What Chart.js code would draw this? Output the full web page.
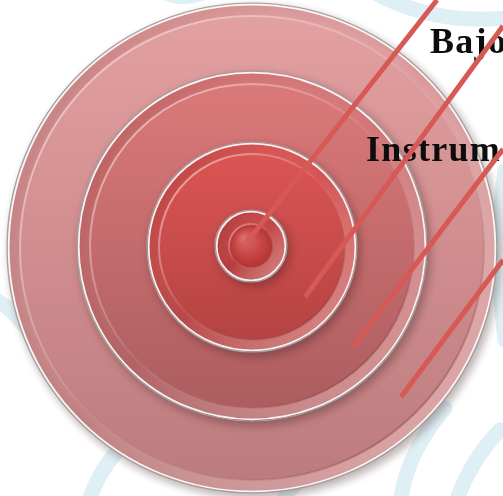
<!DOCTYPE html>
<html><head><meta charset="utf-8">
<script src="https://cdn.jsdelivr.net/npm/chart.js@4/dist/chart.umd.min.js"></script>
<style>html,body{margin:0;padding:0;background:#fff;overflow:hidden}canvas{display:block}</style>
</head><body>
<canvas id="c" width="503" height="496"></canvas>
<script>
// ---- data (image coordinates, y grows downward) ----
const ringNames = ['Anillo 1', 'Anillo 2', 'Anillo 3', 'Centro'];
const ringCenterX = [252, 252, 252, 251];
const ringCenterY = [248, 246, 247, 246];
const ringRadius = [245, 175, 105, 36];
const leaderStartX = [247, 305, 353, 401];
const leaderStartY = [242, 297, 347, 397];
const leaderEndX = [437, 503, 503, 503];
const leaderEndY = [0, 26, 149, 260];
const labelTexts = ['Bajo', 'Instrum'];
const labelX = [430, 366];
const labelY = [53, 161];

// ---- styles ----
const ringTop = ['#e4a1a2', '#dc7a7b', '#dd5654', '#cb4848'];
const ringBottom = ['#bb7a7c', '#ab5c5e', '#b24242', '#b23636'];
const bandWidth = [13, 13, 12, 14];
const lineColor = '#d75955';

function pxRadius(chart, i) {
  const sx = chart.scales.x;
  if (!sx) return NaN;
  return Math.abs(sx.getPixelForValue(ringRadius[i]) - sx.getPixelForValue(0));
}

function ringGradient(ctx, i) {
  const chart = ctx.chart;
  const sy = chart.scales.y;
  if (!sy) return ringTop[i];
  const cy = sy.getPixelForValue(ringCenterY[i]);
  const r = pxRadius(chart, i);
  if (!isFinite(cy) || !isFinite(r) || r < 1) return ringTop[i];
  const g = chart.ctx.createLinearGradient(0, cy - r, 0, cy + r);
  g.addColorStop(0, ringTop[i]);
  g.addColorStop(1, ringBottom[i]);
  return g;
}

const ringDatasets = ringRadius.map((r, i) => ({
  type: 'bubble',
  label: ringNames[i],
  data: [{ x: ringCenterX[i], y: ringCenterY[i] }],
  radius: ctx => {
    const v = pxRadius(ctx.chart, i);
    return isFinite(v) ? v : ringRadius[i];
  },
  backgroundColor: ctx => ringGradient(ctx, i),
  borderColor: '#a2a2a2',
  borderWidth: 1.2,
  hoverRadius: 0,
  order: 10 - i,
  clip: false
}));

const lineDatasets = leaderStartX.map((x, i) => ({
  type: 'line',
  label: 'leader ' + (i + 1),
  data: [{ x: leaderStartX[i], y: leaderStartY[i] }, { x: leaderEndX[i], y: leaderEndY[i] }],
  borderColor: lineColor,
  borderWidth: 5,
  borderCapStyle: 'butt',
  pointRadius: 0,
  order: 1,
  clip: false
}));

function drawBackground(ctx) {
  ctx.save();
  ctx.strokeStyle = 'rgba(190,226,236,0.5)';
  ctx.lineWidth = 15;
  ctx.lineCap = 'round';
  const paths = [
    [[-12, 296], [12, 306], [30, 334]],
    [[88, 505], [98, 468], [128, 440]],
    [[280, 505], [288, 490], [300, 480]],
    [[400, 505], [405, 455], [445, 408]],
    [[455, 505], [470, 460], [500, 430]],
    [[505, 170], [494, 250], [505, 340]],
    [[370, -10], [430, 25], [505, 18]],
    [[160, -10], [180, 2], [205, -8]]
  ];
  for (const p of paths) {
    ctx.beginPath();
    ctx.moveTo(p[0][0], p[0][1]);
    ctx.quadraticCurveTo(p[1][0], p[1][1], p[2][0], p[2][1]);
    ctx.stroke();
  }
  ctx.restore();
}

function drawBevel(ctx, i, cx, cy, R) {
  const b = bandWidth[i];
  ctx.save();
  ctx.beginPath();
  ctx.arc(cx, cy, R - 1.7, 0, Math.PI * 2);
  ctx.strokeStyle = 'rgba(255,255,255,0.92)';
  ctx.lineWidth = 1.8;
  ctx.stroke();
  const g = ctx.createLinearGradient(cx - R * 0.7, cy - R * 0.7, cx + R * 0.7, cy + R * 0.7);
  g.addColorStop(0, 'rgba(110,25,25,0.12)');
  g.addColorStop(0.5, 'rgba(255,255,255,0.02)');
  g.addColorStop(1, 'rgba(255,215,215,0.40)');
  ctx.beginPath();
  ctx.arc(cx, cy, R - 2.6, 0, Math.PI * 2);
  ctx.arc(cx, cy, R - b, 0, Math.PI * 2, true);
  ctx.fillStyle = g;
  ctx.fill();
  const e = ctx.createLinearGradient(cx - R * 0.7, cy - R * 0.7, cx + R * 0.7, cy + R * 0.7);
  e.addColorStop(0, 'rgba(255,235,235,0.55)');
  e.addColorStop(0.5, 'rgba(255,255,255,0.05)');
  e.addColorStop(1, 'rgba(90,15,15,0.30)');
  ctx.beginPath();
  ctx.arc(cx, cy, R - b, 0, Math.PI * 2);
  ctx.strokeStyle = e;
  ctx.lineWidth = 2;
  ctx.stroke();
  if (i === ringRadius.length - 1) {
    const rr = R - b;
    const rg = ctx.createRadialGradient(cx - rr * 0.35, cy - rr * 0.4, 1, cx, cy, rr);
    rg.addColorStop(0, '#dc6b6b');
    rg.addColorStop(0.6, '#c84444');
    rg.addColorStop(1, '#b03434');
    ctx.beginPath();
    ctx.arc(cx, cy, rr - 1, 0, Math.PI * 2);
    ctx.fillStyle = rg;
    ctx.fill();
  }
  ctx.restore();
}

function drawLabels(ctx, chart) {
  const sx = chart.scales.x, sy = chart.scales.y;
  ctx.save();
  ctx.fillStyle = '#0d0d0d';
  ctx.font = 'bold 36px "Liberation Serif", serif';
  if ('letterSpacing' in ctx) ctx.letterSpacing = '1.3px';
  ctx.textAlign = 'left';
  ctx.textBaseline = 'alphabetic';
  labelTexts.forEach((t, i) => {
    ctx.fillText(t, sx.getPixelForValue(labelX[i]), sy.getPixelForValue(labelY[i]));
  });
  ctx.restore();
}

const targetPlugin = {
  id: 'target',
  beforeDatasetsDraw(chart) { drawBackground(chart.ctx); },
  beforeDatasetDraw(chart, args) {
    if (args.index < ringRadius.length) {
      const ctx = chart.ctx;
      ctx.save();
      ctx.shadowColor = 'rgba(60,30,30,0.35)';
      ctx.shadowBlur = 9;
      ctx.shadowOffsetX = 3;
      ctx.shadowOffsetY = 4;
    }
  },
  afterDatasetDraw(chart, args) {
    if (args.index < ringRadius.length) {
      const ctx = chart.ctx;
      ctx.restore();
      const el = args.meta.data[0];
      drawBevel(ctx, args.index, el.x, el.y, el.options.radius);
      if (args.index === ringRadius.length - 1) drawLabels(ctx, chart);
    }
  }
};

new Chart(document.getElementById('c'), {
  type: 'bubble',
  data: { datasets: [...ringDatasets, ...lineDatasets] },
  options: {
    responsive: false,
    animation: false,
    events: [],
    layout: { padding: 0, autoPadding: false },
    scales: {
      x: { type: 'linear', min: 0, max: 503, display: false },
      y: { type: 'linear', min: 0, max: 496, reverse: true, display: false }
    },
    plugins: { legend: { display: false }, tooltip: { enabled: false } }
  },
  plugins: [targetPlugin]
});
</script>
</body></html>
